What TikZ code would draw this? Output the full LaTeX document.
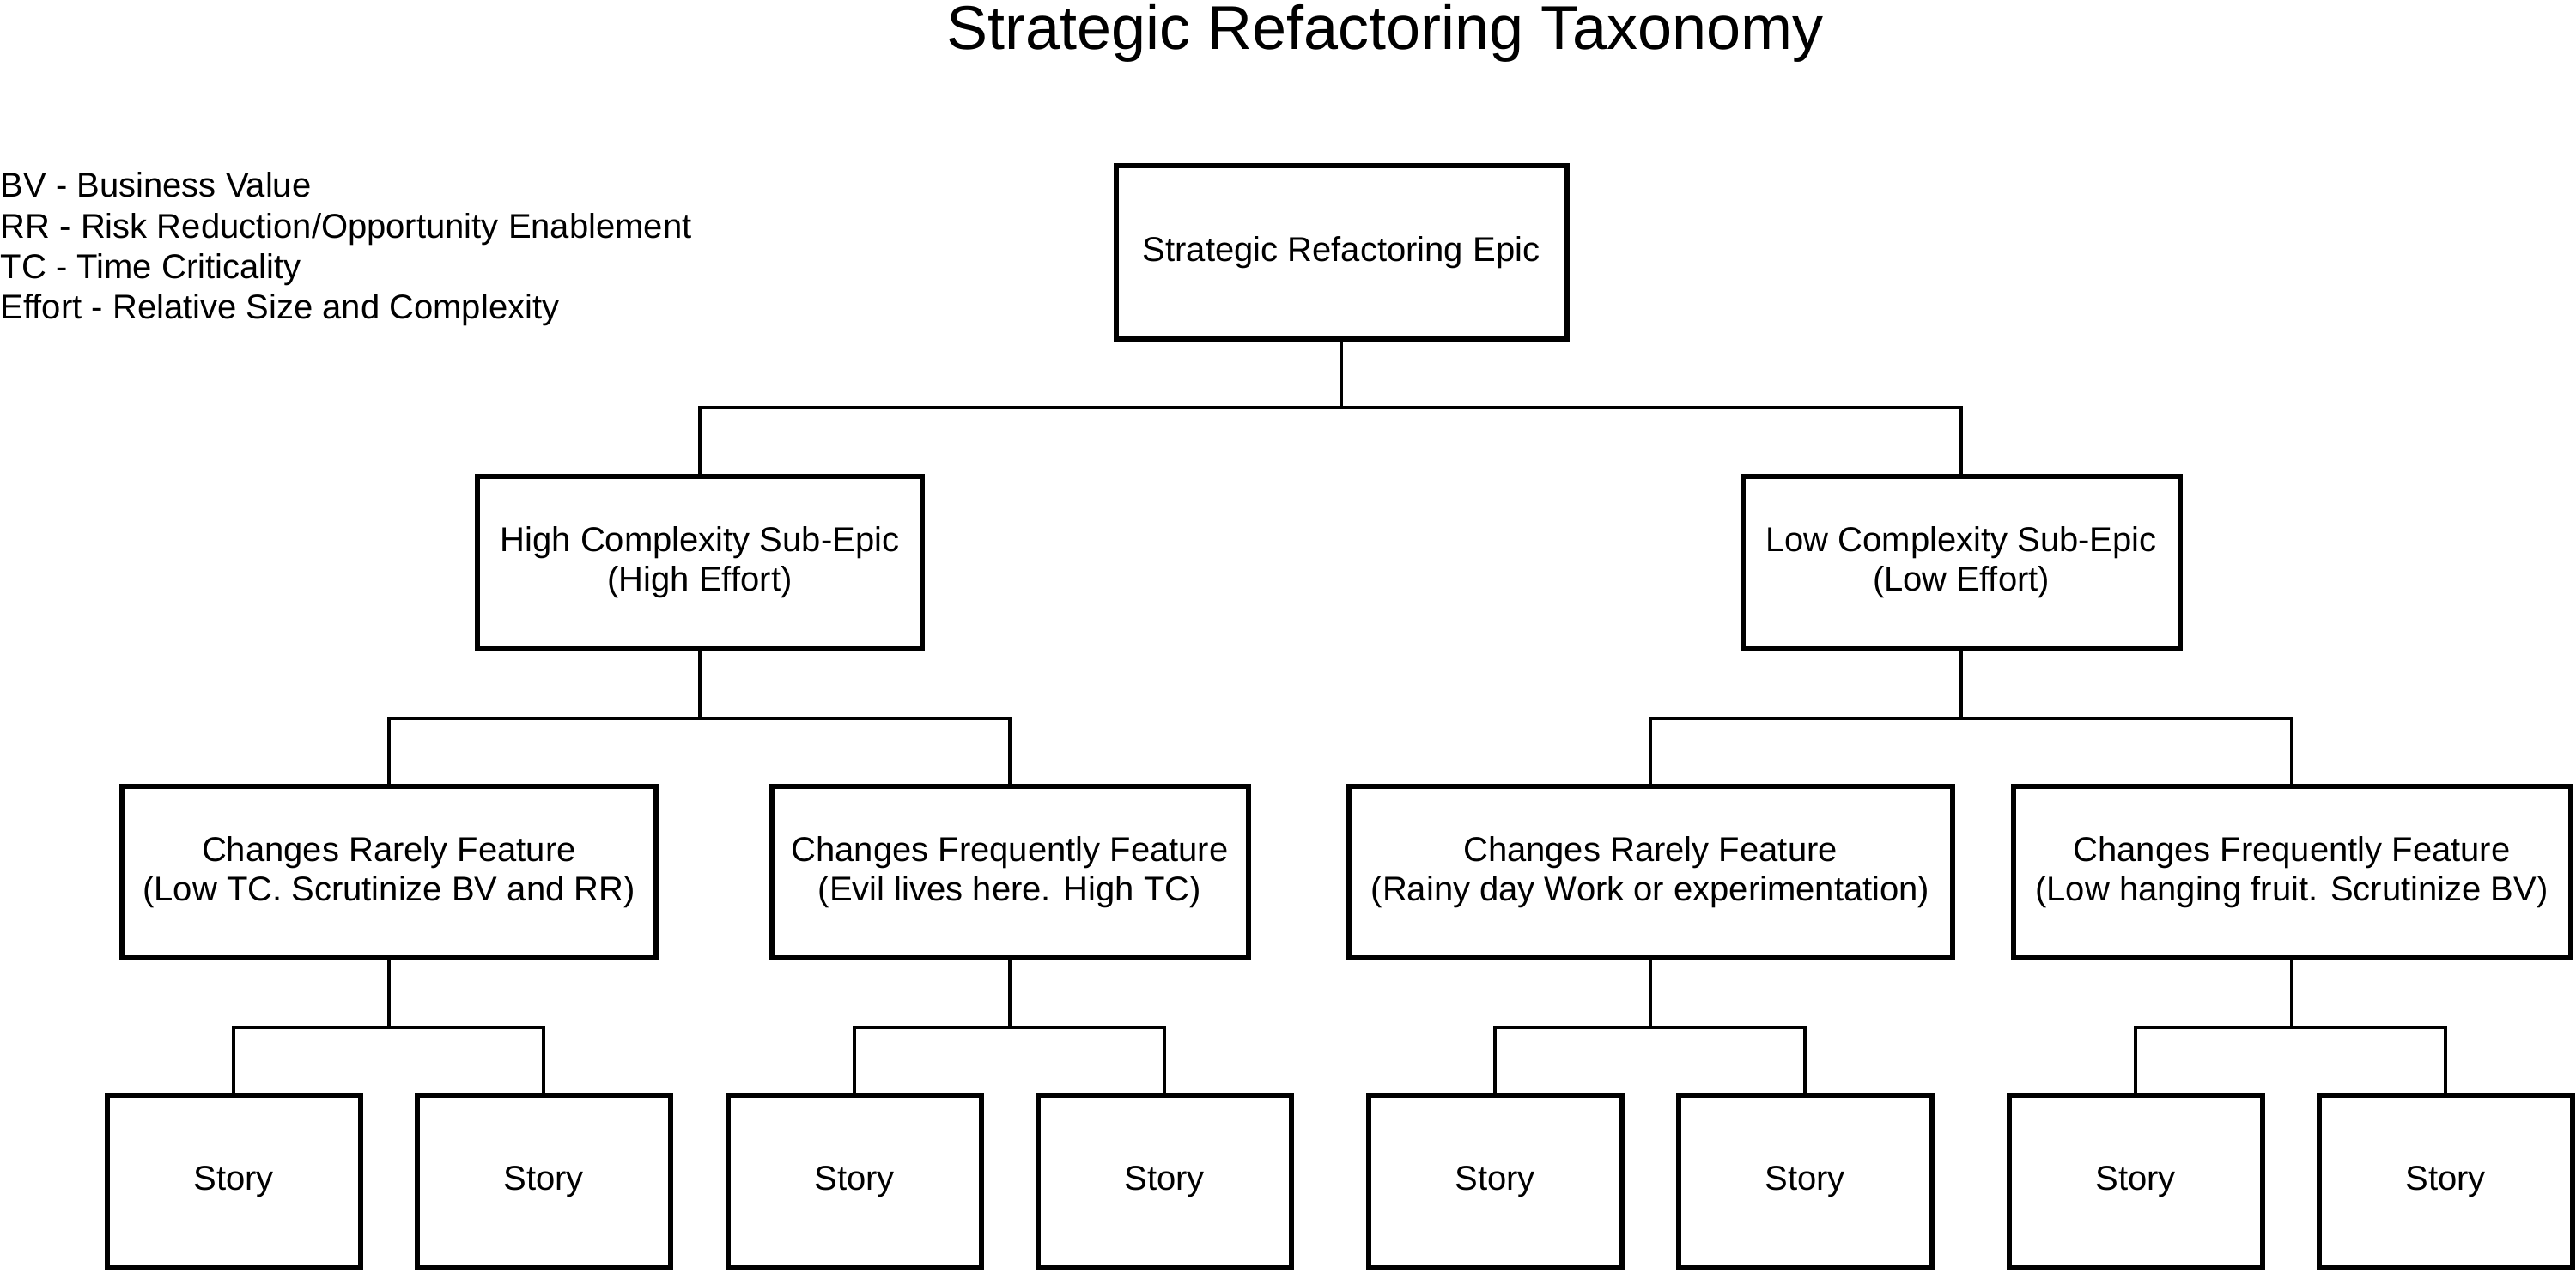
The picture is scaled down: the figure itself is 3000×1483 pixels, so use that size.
\documentclass[tikz,border=0pt]{standalone}
\usepackage{fontspec}
\setmainfont{Liberation Sans}
\begin{document}
\begin{tikzpicture}[x=0.25pt,y=-0.25pt,
  box/.style={draw=black, line width=1.5pt, fill=white, align=center, inner sep=0pt,
    font=\fontsize{10pt}{11.5pt}\selectfont},
  storybox/.style={box, minimum width=295*0.25pt, minimum height=201*0.25pt},
  featbox/.style={box, minimum height=199*0.25pt},
  link/.style={draw=black, line width=1pt},
  legend/.style={anchor=base west, inner sep=0pt, font=\fontsize{10pt}{12pt}\selectfont}]
\useasboundingbox (0,0) rectangle (3000,1483);

% title
\node[anchor=base, inner sep=0pt, font=\fontsize{18pt}{21pt}\selectfont] (title) at (1613,58) {Strategic Refactoring Taxonomy};

% legend
\node[legend] (l1) at (0,230) {BV - Business Value};
\node[legend] (l2) at (0,278) {RR - Risk Reduction/Opportunity Enablement};
\node[legend] (l3) at (0,325) {TC - Time Criticality};
\node[legend] (l4) at (0,372) {Effort - Relative Size and Complexity};

% boxes
\node[box, minimum width=525*0.25pt, minimum height=202*0.25pt] (top) at (1562,294) {Strategic Refactoring Epic};
\node[box, minimum width=518*0.25pt, minimum height=200*0.25pt] (sub1) at (815,655) {High Complexity Sub-Epic\\(High Effort)};
\node[box, minimum width=509*0.25pt, minimum height=200*0.25pt] (sub2) at (2284,655) {Low Complexity Sub-Epic\\(Low Effort)};

\node[featbox, minimum width=622*0.25pt] (f1) at (453,1016) {Changes Rarely Feature\\(Low TC. Scrutinize BV and RR)};
\node[featbox, minimum width=555*0.25pt] (f2) at (1176,1016) {Changes Frequently Feature\\(Evil lives here. High TC)};
\node[featbox, minimum width=703*0.25pt] (f3) at (1922,1016) {Changes Rarely Feature\\(Rainy day Work or experimentation)};
\node[featbox, minimum width=649*0.25pt] (f4) at (2669,1016) {Changes Frequently Feature\\(Low hanging fruit. Scrutinize BV)};

\node[storybox] (s1) at (272,1377) {Story};
\node[storybox] (s2) at (633,1377) {Story};
\node[storybox] (s3) at (995,1377) {Story};
\node[storybox] (s4) at (1356,1377) {Story};
\node[storybox] (s5) at (1741,1377) {Story};
\node[storybox] (s6) at (2102,1377) {Story};
\node[storybox] (s7) at (2487,1377) {Story};
\node[storybox] (s8) at (2848,1377) {Story};

% bar levels
\coordinate (bar1) at (0,475);
\coordinate (bar2) at (0,837);
\coordinate (bar3) at (0,1197);

% connectors
\draw[link] (top.south) |- (bar1 -| sub1.north) -- (sub1.north);
\draw[link] (top.south) |- (bar1 -| sub2.north) -- (sub2.north);

\draw[link] (sub1.south) |- (bar2 -| f1.north) -- (f1.north);
\draw[link] (sub1.south) |- (bar2 -| f2.north) -- (f2.north);
\draw[link] (sub2.south) |- (bar2 -| f3.north) -- (f3.north);
\draw[link] (sub2.south) |- (bar2 -| f4.north) -- (f4.north);

\draw[link] (f1.south) |- (bar3 -| s1.north) -- (s1.north);
\draw[link] (f1.south) |- (bar3 -| s2.north) -- (s2.north);
\draw[link] (f2.south) |- (bar3 -| s3.north) -- (s3.north);
\draw[link] (f2.south) |- (bar3 -| s4.north) -- (s4.north);
\draw[link] (f3.south) |- (bar3 -| s5.north) -- (s5.north);
\draw[link] (f3.south) |- (bar3 -| s6.north) -- (s6.north);
\draw[link] (f4.south) |- (bar3 -| s7.north) -- (s7.north);
\draw[link] (f4.south) |- (bar3 -| s8.north) -- (s8.north);
\end{tikzpicture}
\end{document}
